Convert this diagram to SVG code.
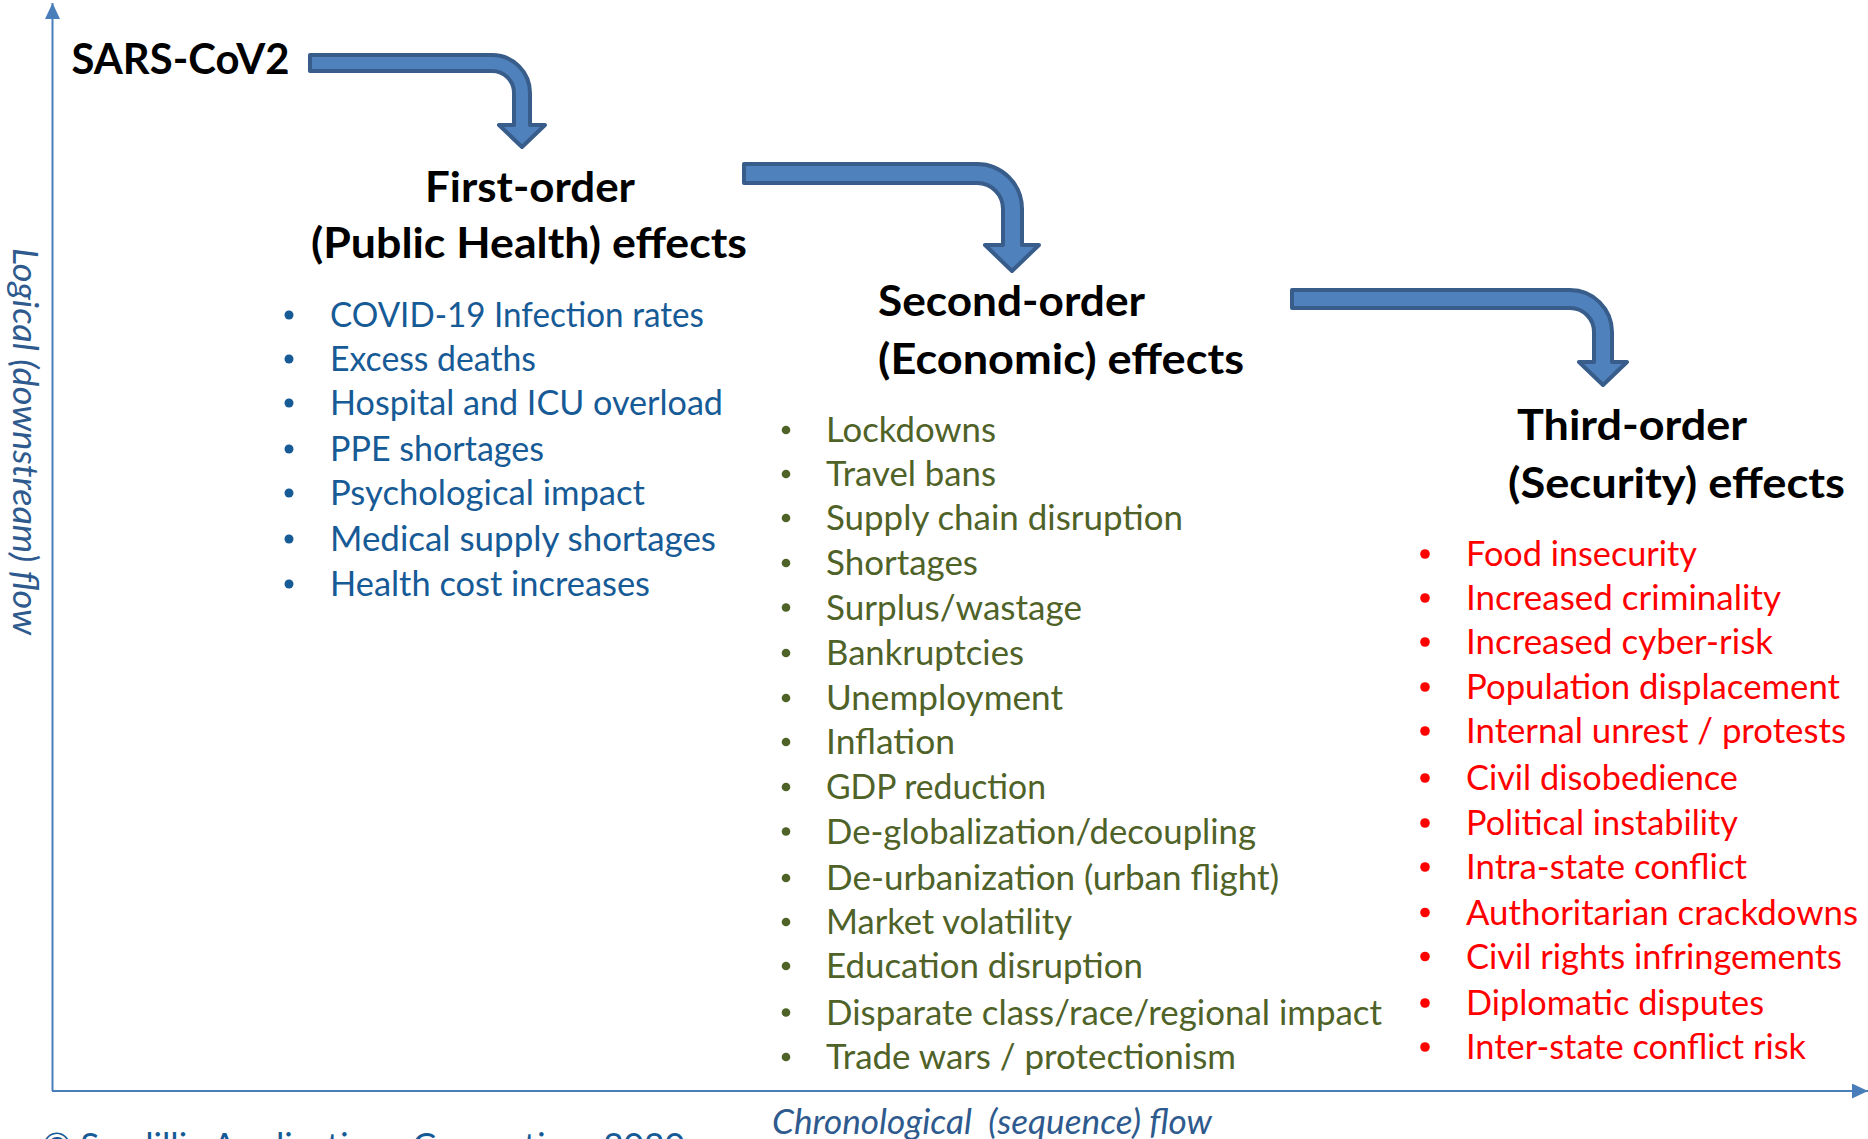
<svg xmlns="http://www.w3.org/2000/svg" width="1868" height="1139" viewBox="0 0 1868 1139">
  <style>
    text { font-family: Lato, "Open Sans", "Liberation Sans", sans-serif; }
    .head { font-size: 42px; font-weight: bold; fill: #000; }
    .item { font-size: 34px; }
    .axis-label { font-size: 34px; font-style: italic; fill: #2E5A8E; }
    .blue { fill: #165A96; }
    .green { fill: #4F6228; }
    .red { fill: #FF0000; }
    .axis { stroke: #4A7EBB; stroke-width: 2; fill: none; }
    .bent-arrow { fill: #4F81BD; stroke: #385D8A; stroke-width: 4; stroke-linejoin: round; }
  </style>
  <defs>
    <marker id="axis-head" markerUnits="userSpaceOnUse" markerWidth="17" markerHeight="16" refX="16" refY="7.5" orient="auto">
      <path d="M0,0 L16,7.5 L0,15 Z" fill="#4A7EBB"/>
    </marker>
  </defs>
  <rect width="1868" height="1139" fill="#FFFFFF"/>

  <!-- axes -->
  <g id="axes">
    <line class="axis" x1="52.5" y1="1091" x2="52.5" y2="3" marker-end="url(#axis-head)"/>
    <line class="axis" x1="52" y1="1091" x2="1868" y2="1091" marker-end="url(#axis-head)"/>
    <text class="axis-label" transform="translate(13,248) rotate(90)" x="0" y="0" textLength="387" lengthAdjust="spacingAndGlyphs">Logical (downstream) flow</text>
    <text class="axis-label" x="772" y="1134" textLength="440" lengthAdjust="spacingAndGlyphs" xml:space="preserve">Chronological  (sequence) flow</text>
  </g>

  <!-- bent arrows linking each stage -->
  <g id="connectors">
    <path class="bent-arrow" d="M310,55 H492 A38,38 0 0 1 530,93 V125 H545 L522,147 L499,125 H514 V93 A22,22 0 0 0 492,71 H310 Z"/>
    <path class="bent-arrow" d="M744,164 H977 A45,45 0 0 1 1022,209 V245 H1039 L1012,271 L985,245 H1003 V209 A26,26 0 0 0 977,183 H744 Z"/>
    <path class="bent-arrow" d="M1292,290 H1570 A42,42 0 0 1 1612,332 V362 H1627 L1603,385 L1579,362 H1594 V332 A24,24 0 0 0 1570,308 H1292 Z"/>
  </g>

  <!-- origin -->
  <g id="sars-cov2">
    <text class="head" x="71.5" y="74" textLength="218" lengthAdjust="spacingAndGlyphs">SARS-CoV2</text>
  </g>

  <!-- first-order effects -->
  <g id="first-order">
    <text class="head" x="425" y="202" textLength="210" lengthAdjust="spacingAndGlyphs">First-order</text>
    <text class="head" x="311" y="258" textLength="436" lengthAdjust="spacingAndGlyphs">(Public Health) effects</text>
    <g class="blue">
      <circle cx="289" cy="315" r="4.5"/>
      <circle cx="289" cy="359" r="4.5"/>
      <circle cx="289" cy="403" r="4.5"/>
      <circle cx="289" cy="449" r="4.5"/>
      <circle cx="289" cy="493" r="4.5"/>
      <circle cx="289" cy="539" r="4.5"/>
      <circle cx="289" cy="584" r="4.5"/>
    </g>
    <g class="item blue">
      <text x="330" y="327" textLength="374" lengthAdjust="spacingAndGlyphs">COVID-19 Infection rates</text>
      <text x="330" y="371" textLength="206" lengthAdjust="spacingAndGlyphs">Excess deaths</text>
      <text x="330" y="415" textLength="393" lengthAdjust="spacingAndGlyphs">Hospital and ICU overload</text>
      <text x="330" y="461" textLength="214" lengthAdjust="spacingAndGlyphs">PPE shortages</text>
      <text x="330" y="505" textLength="315" lengthAdjust="spacingAndGlyphs">Psychological impact</text>
      <text x="330" y="551" textLength="386" lengthAdjust="spacingAndGlyphs">Medical supply shortages</text>
      <text x="330" y="596" textLength="320" lengthAdjust="spacingAndGlyphs">Health cost increases</text>
    </g>
  </g>

  <!-- second-order effects -->
  <g id="second-order">
    <text class="head" x="878" y="316" textLength="267" lengthAdjust="spacingAndGlyphs">Second-order</text>
    <text class="head" x="878" y="374" textLength="366" lengthAdjust="spacingAndGlyphs">(Economic) effects</text>
    <g class="green">
      <circle cx="786" cy="430" r="4.3"/>
      <circle cx="786" cy="474" r="4.3"/>
      <circle cx="786" cy="518" r="4.3"/>
      <circle cx="786" cy="563" r="4.3"/>
      <circle cx="786" cy="607.5" r="4.3"/>
      <circle cx="786" cy="653" r="4.3"/>
      <circle cx="786" cy="698" r="4.3"/>
      <circle cx="786" cy="742" r="4.3"/>
      <circle cx="786" cy="787" r="4.3"/>
      <circle cx="786" cy="831.5" r="4.3"/>
      <circle cx="786" cy="878" r="4.3"/>
      <circle cx="786" cy="922" r="4.3"/>
      <circle cx="786" cy="966" r="4.3"/>
      <circle cx="786" cy="1012.5" r="4.3"/>
      <circle cx="786" cy="1057" r="4.3"/>
    </g>
    <g class="item green">
      <text x="826" y="442" textLength="170" lengthAdjust="spacingAndGlyphs">Lockdowns</text>
      <text x="826" y="486" textLength="170" lengthAdjust="spacingAndGlyphs">Travel bans</text>
      <text x="826" y="530" textLength="357" lengthAdjust="spacingAndGlyphs">Supply chain disruption</text>
      <text x="826" y="575" textLength="152" lengthAdjust="spacingAndGlyphs">Shortages</text>
      <text x="826" y="619.5" textLength="256" lengthAdjust="spacingAndGlyphs">Surplus/wastage</text>
      <text x="826" y="665" textLength="198" lengthAdjust="spacingAndGlyphs">Bankruptcies</text>
      <text x="826" y="710" textLength="237" lengthAdjust="spacingAndGlyphs">Unemployment</text>
      <text x="826" y="754" textLength="129" lengthAdjust="spacingAndGlyphs">Inflation</text>
      <text x="826" y="799" textLength="220" lengthAdjust="spacingAndGlyphs">GDP reduction</text>
      <text x="826" y="843.5" textLength="430" lengthAdjust="spacingAndGlyphs">De-globalization/decoupling</text>
      <text x="826" y="890" textLength="453" lengthAdjust="spacingAndGlyphs">De-urbanization (urban flight)</text>
      <text x="826" y="934" textLength="246" lengthAdjust="spacingAndGlyphs">Market volatility</text>
      <text x="826" y="978" textLength="317" lengthAdjust="spacingAndGlyphs">Education disruption</text>
      <text x="826" y="1024.5" textLength="556" lengthAdjust="spacingAndGlyphs">Disparate class/race/regional impact</text>
      <text x="826" y="1069" textLength="410" lengthAdjust="spacingAndGlyphs">Trade wars / protectionism</text>
    </g>
  </g>

  <!-- third-order effects -->
  <g id="third-order">
    <text class="head" x="1517" y="440" textLength="230" lengthAdjust="spacingAndGlyphs">Third-order</text>
    <text class="head" x="1508" y="498" textLength="337" lengthAdjust="spacingAndGlyphs">(Security) effects</text>
    <g class="red">
      <circle cx="1425" cy="554" r="4.8"/>
      <circle cx="1425" cy="598" r="4.8"/>
      <circle cx="1425" cy="642" r="4.8"/>
      <circle cx="1425" cy="687" r="4.8"/>
      <circle cx="1425" cy="731" r="4.8"/>
      <circle cx="1425" cy="778" r="4.8"/>
      <circle cx="1425" cy="823" r="4.8"/>
      <circle cx="1425" cy="867" r="4.8"/>
      <circle cx="1425" cy="912.5" r="4.8"/>
      <circle cx="1425" cy="956.5" r="4.8"/>
      <circle cx="1425" cy="1003" r="4.8"/>
      <circle cx="1425" cy="1047" r="4.8"/>
    </g>
    <g class="item red">
      <text x="1466" y="566" textLength="231" lengthAdjust="spacingAndGlyphs">Food insecurity</text>
      <text x="1466" y="610" textLength="315" lengthAdjust="spacingAndGlyphs">Increased criminality</text>
      <text x="1466" y="654" textLength="307" lengthAdjust="spacingAndGlyphs">Increased cyber-risk</text>
      <text x="1466" y="699" textLength="374" lengthAdjust="spacingAndGlyphs">Population displacement</text>
      <text x="1466" y="743" textLength="380" lengthAdjust="spacingAndGlyphs">Internal unrest / protests</text>
      <text x="1466" y="790" textLength="272" lengthAdjust="spacingAndGlyphs">Civil disobedience</text>
      <text x="1466" y="835" textLength="272" lengthAdjust="spacingAndGlyphs">Political instability</text>
      <text x="1466" y="879" textLength="281" lengthAdjust="spacingAndGlyphs">Intra-state conflict</text>
      <text x="1466" y="924.5" textLength="392" lengthAdjust="spacingAndGlyphs">Authoritarian crackdowns</text>
      <text x="1466" y="968.5" textLength="376" lengthAdjust="spacingAndGlyphs">Civil rights infringements</text>
      <text x="1466" y="1015" textLength="298" lengthAdjust="spacingAndGlyphs">Diplomatic disputes</text>
      <text x="1466" y="1059" textLength="340" lengthAdjust="spacingAndGlyphs">Inter-state conflict risk</text>
    </g>
  </g>

  <!-- copyright line, mostly below the bottom edge -->
  <text class="item blue" x="42" y="1158" textLength="643" lengthAdjust="spacingAndGlyphs">© Scadillia Applications Consortium 2020</text>
</svg>
